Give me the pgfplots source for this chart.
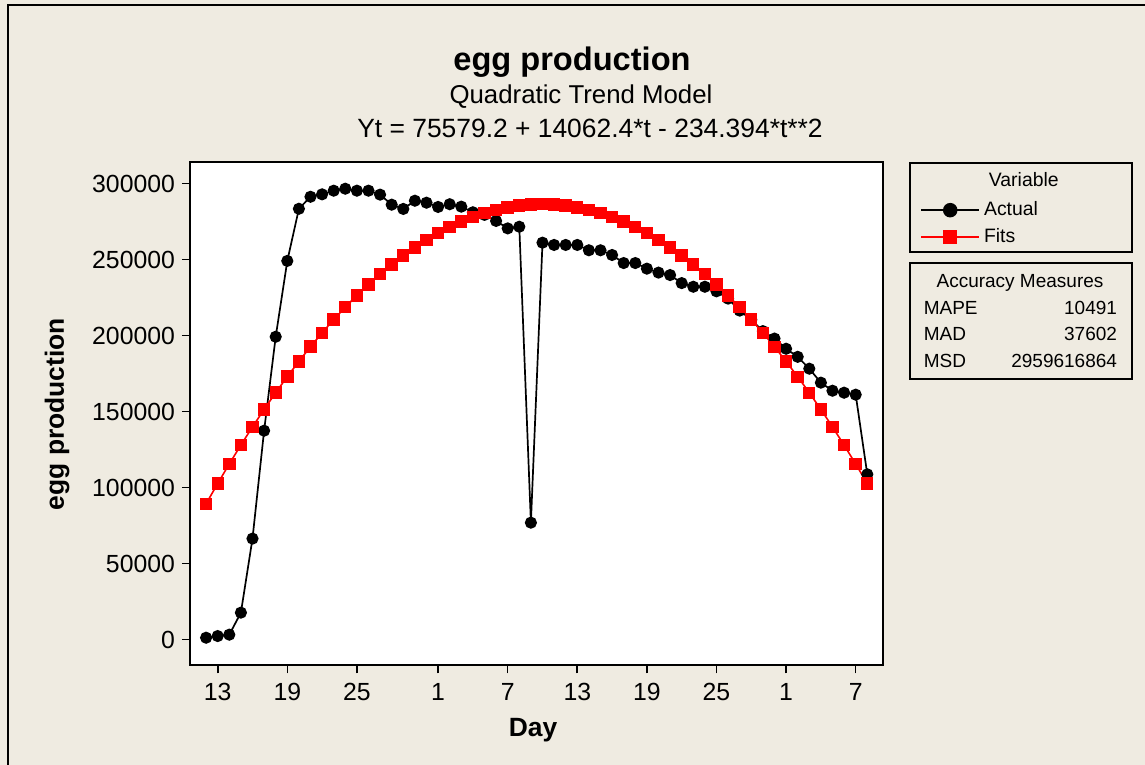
\documentclass[border=0pt]{standalone}
\usepackage{fontspec}
\setmainfont{Liberation Sans}
\usepackage{pgfplots}
\pgfplotsset{compat=1.18}
\definecolor{bg}{RGB}{239,235,225}
\begin{document}
\begin{tikzpicture}
\path[use as bounding box, fill=bg] (0,0) rectangle (572.5pt,382.5pt);
\draw[line width=1.1pt] (4pt,0) -- (4pt,380pt) -- (572.5pt,380pt);
\node[anchor=base, font=\bfseries\fontsize{16.3}{19}\selectfont] at (286pt,347pt) {egg production};
\node[anchor=base, font=\fontsize{12.9}{15}\selectfont] at (290.5pt,330.5pt) {Quadratic Trend Model};
\node[anchor=base, font=\fontsize{13.2}{15}\selectfont] at (295pt,313.5pt) {Yt = 75579.2 + 14062.4*t - 234.394*t**2};
\begin{axis}[
  at={(95pt,49.75pt)}, anchor=south west, scale only axis,
  width=346.65pt, height=251.5pt,
  xmin=-0.388, xmax=59.38, ymin=-16974, ymax=313947,
  axis background/.style={fill=white},
  axis line style={line width=1pt},
  tick align=outside, tick pos=left,
  major tick length=4pt,
  tick style={line width=0.8pt, black},
  xtick={2,8,14,21,27,33,39,45,51,57},
  xticklabels={13,19,25,1,7,13,19,25,1,7},
  xticklabel style={yshift=-1.5pt},
  ytick={0,50000,100000,150000,200000,250000,300000},
  scaled y ticks=false,
  yticklabel style={/pgf/number format/fixed, /pgf/number format/1000 sep={}},
  /pgf/number format/assume math mode=true,
  ticklabel style={font=\fontsize{12.4}{14}\selectfont},
  xlabel={Day}, ylabel={egg production},
  label style={font=\bfseries\fontsize{13.2}{15}\selectfont},
  xlabel style={at={(axis description cs:0.4947,-0.1282)}, anchor=center},
  ylabel style={at={(axis description cs:-0.1918,0.5)}, anchor=center},
  legend style={draw=none, fill=none, at={(axis description cs:1.0529,0.8783)}, anchor=west,
    inner sep=0pt, font=\fontsize{9.7}{11}\selectfont, row sep=1pt},
  legend cell align=left,
  legend image code/.code={\draw[mark repeat=2,mark phase=2,mark size=3.2pt] plot coordinates {(0pt,0pt) (14.5pt,0pt) (29pt,0pt)};},
]
\addplot[black, line width=0.85pt, mark=*, mark size=2.6pt, mark options={fill=black, solid}] table {
t y
1 1300
2 2400
3 3300
4 17800
5 66500
6 137500
7 199300
8 249200
9 283500
10 291400
11 293000
12 295400
13 296700
14 295400
15 295400
16 292800
17 286200
18 283400
19 288800
20 287500
21 284700
22 286500
23 284900
24 281200
25 279500
26 275500
27 270600
28 271700
29 77000
30 261200
31 259700
32 259700
33 259700
34 256200
35 256200
36 253100
37 247800
38 247800
39 244100
40 241500
41 239900
42 234600
43 232200
44 232200
45 229200
46 224400
47 216500
48 210500
49 203000
50 198100
51 191400
52 186100
53 178300
54 169100
55 163800
56 162500
57 161200
58 108800
};
\addlegendentry{Actual}
\addplot[red, line width=0.8pt, mark=square*, mark size=2.7pt, mark options={fill=red, solid}] table {
t y
1 89407.2
2 102766.4
3 115656.9
4 128078.5
5 140031.4
6 151515.4
7 162530.7
8 173077.2
9 183154.9
10 192763.8
11 201903.9
12 210575.3
13 218777.8
14 226511.6
15 233776.6
16 240572.7
17 246900.1
18 252758.7
19 258148.6
20 263069.6
21 267521.8
22 271505.3
23 275020.0
24 278065.9
25 280643.0
26 282751.3
27 284390.8
28 285561.5
29 286263.4
30 286496.6
31 286261.0
32 285556.5
33 284383.3
34 282741.3
35 280630.6
36 278051.0
37 275002.6
38 271485.5
39 267499.5
40 263044.8
41 258121.3
42 252729.0
43 246867.9
44 240538.0
45 233739.4
46 226471.9
47 218735.7
48 210530.6
49 201856.8
50 192714.2
51 183102.8
52 173022.6
53 162473.7
54 151455.9
55 139969.4
56 128014.0
57 115589.9
58 102697.0
};
\addlegendentry{Fits}
\end{axis}
\draw[line width=0.85pt] (455pt,256.5pt) rectangle (566.15pt,301.15pt);
\node[anchor=base, font=\fontsize{9.7}{11}\selectfont] at (511.9pt,289.2pt) {Variable};
\draw[line width=0.85pt] (455pt,192.85pt) rectangle (566.15pt,251.15pt);
\begin{scope}[font=\fontsize{9.5}{11}\selectfont]
\node[anchor=base] at (510pt,238.8pt) {Accuracy Measures};
\node[anchor=base west, inner sep=0pt] at (461.7pt,225.3pt) {MAPE};
\node[anchor=base east, inner sep=0pt] at (558.7pt,225.3pt) {10491};
\node[anchor=base west, inner sep=0pt] at (461.7pt,212pt) {MAD};
\node[anchor=base east, inner sep=0pt] at (558.7pt,212pt) {37602};
\node[anchor=base west, inner sep=0pt] at (461.7pt,198.7pt) {MSD};
\node[anchor=base east, inner sep=0pt] at (558.7pt,198.7pt) {2959616864};
\end{scope}
\end{tikzpicture}
\end{document}
